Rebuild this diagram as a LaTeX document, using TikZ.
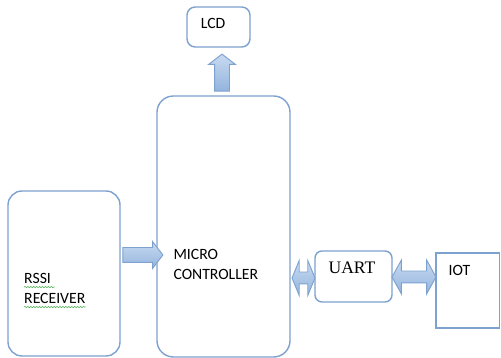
\documentclass[tikz,border=0pt]{standalone}
\usepackage{fontspec}
\setmainfont{Carlito}
\newfontfamily\serifface{Liberation Serif}
\usetikzlibrary{shapes.arrows,positioning,decorations.pathmorphing}
\definecolor{edge}{HTML}{7DA2CF}
\definecolor{arrowtop}{HTML}{C8DAF0}
\definecolor{arrowbot}{HTML}{93B4DE}
\definecolor{squiggle}{HTML}{4CAF50}

\begin{document}
\begin{tikzpicture}[
  block/.style={rectangle, draw=edge, line width=1.2pt, fill=white, rounded corners=#1, inner sep=0pt},
  block/.default=6pt,
  lbl/.style={font=\fontsize{13.4}{17}\selectfont, inner sep=0pt, anchor=base west, align=left},
  fatarrow/.style={single arrow, draw=edge, line width=0.8pt, top color=arrowtop, bottom color=arrowbot, inner xsep=0pt, single arrow head indent=0pt},
  twoway/.style={double arrow, draw=edge, line width=0.8pt, top color=arrowtop, bottom color=arrowbot, inner xsep=0pt, double arrow head indent=0pt},
  wavy/.style={squiggle, line width=0.5pt, decorate, decoration={snake, amplitude=0.5pt, segment length=2.5pt}}
]
  \clip (0,0) rectangle (15.03,10.74);

  % blocks
  \node[block=7pt, minimum width=1.89cm, minimum height=1.2cm] (lcd) at (6.555,9.93) {};
  \node[block=14pt, minimum width=3.99cm, minimum height=7.83cm] (mcu) at (6.705,3.945) {};
  \node[block=12pt, minimum width=3.36cm, minimum height=4.95cm] (rssi) at (1.92,2.535) {};
  \node[block=6pt, minimum width=2.31cm, minimum height=1.53cm] (uart) at (10.605,2.445) {};
  \node[block=0pt, minimum width=1.91cm, minimum height=2.25cm] (iot) at (14.035,2.025) {};

  % labels
  \node[lbl] (lcdtxt) at (6.02,9.87) {LCD};
  \node[lbl] (mcutxt) at (5.20,2.36) {MICRO\\CONTROLLER};
  \node[lbl] (rssitop) at (0.72,2.22) {RSSI};
  \node[lbl] (rssibot) at (0.72,1.62) {RECEIVER};
  \node[lbl, font=\serifface\fontsize{15}{18}\selectfont] (uarttxt) at (9.85,2.52) {UART};
  \node[lbl] (iottxt) at (13.45,2.46) {IOT};

  \draw[wavy] ([yshift=-2.6pt]rssitop.base west) -- ([yshift=-2.6pt, xshift=3pt]rssitop.base east);
  \draw[wavy] ([yshift=-2.6pt]rssibot.base west) -- ([yshift=-2.6pt]rssibot.base east);

  % block arrows (shaft width comes from the inner sep)
  \node[fatarrow, minimum height=1.11cm, inner xsep=0.21cm, inner ysep=0pt, single arrow head extend=0.18cm,
        single arrow tip angle=105, shape border rotate=90] (tolcd) at (6.66,8.475) {};
  \node[fatarrow, minimum height=1.2cm, inner ysep=0.21cm, single arrow head extend=0.18cm,
        single arrow tip angle=105] (tomcu) at (4.20,3.09) {};
  \node[twoway, minimum height=0.69cm, inner ysep=0.165cm, double arrow head extend=0.345cm,
        double arrow tip angle=135] (mcuuart) at (9.105,2.40) {};
  \node[twoway, minimum height=1.32cm, inner ysep=0.165cm, double arrow head extend=0.33cm,
        double arrow tip angle=122] (uartiot) at (12.42,2.43) {};
\end{tikzpicture}
\end{document}
